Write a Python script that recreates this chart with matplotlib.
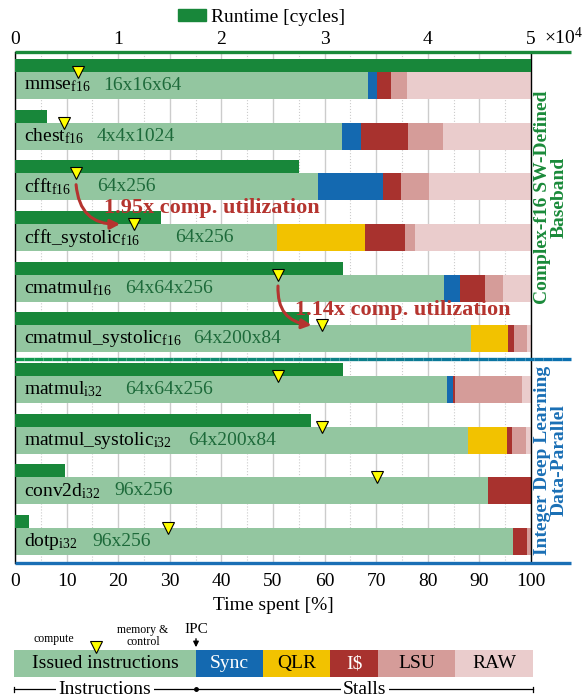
import numpy as np
import matplotlib
matplotlib.use("Agg")
import matplotlib.pyplot as plt
from matplotlib.patches import FancyArrowPatch, Rectangle, Patch
from matplotlib.collections import LineCollection
from matplotlib.colors import to_rgb
import matplotlib.transforms as mtrans

plt.rcParams["font.family"] = ["Liberation Serif", "DejaVu Serif"]
plt.rcParams["mathtext.fontset"] = "custom"
plt.rcParams["mathtext.rm"] = "Liberation Serif"
plt.rcParams["mathtext.it"] = "Liberation Serif:italic"
plt.rcParams["mathtext.bf"] = "Liberation Serif:bold"

# --- dados ---
NAMES = ["mmse", "chest", "cfft", "cfft_systolic", "cmatmul",
         "cmatmul_systolic", "matmul", "matmul_systolic", "conv2d", "dotp"]
DTYPES = ["f16", "f16", "f16", "f16", "f16", "f16", "i32", "i32", "i32", "i32"]
DIMS = ["16x16x64", "4x4x1024", "64x256", "64x256", "64x64x256",
        "64x200x84", "64x64x256", "64x200x84", "96x256", "96x256"]
RUNTIME = [50000, 3100, 27500, 14150, 31800, 28500, 31800, 28700, 4850, 1360]
ISSUED = [68.4, 63.4, 58.7, 50.8, 83.1, 88.4, 83.7, 87.8, 91.7, 96.5]
SYNC = [1.8, 3.7, 12.6, 0.0, 3.1, 0.0, 1.2, 0.0, 0.0, 0.0]
QLR = [0.0, 0.0, 0.0, 17.0, 0.0, 7.1, 0.0, 7.5, 0.0, 0.0]
ICACHE = [2.7, 9.1, 3.5, 7.8, 4.9, 1.2, 0.4, 1.0, 8.3, 2.7]
LSU = [3.1, 6.7, 5.4, 1.9, 3.5, 2.5, 13.0, 2.7, 0.0, 0.8]
RAW = [24.0, 17.1, 19.8, 22.5, 5.4, 0.8, 1.7, 1.0, 0.0, 0.0]
IPC_MARK = [12.2, 9.5, 11.8, 23.1, 51.0, 59.5, 51.0, 59.5, 70.2, 29.6]
GROUPS = ["Complex-f16 SW-Defined\nBaseband", "Integer Deep Learning\nData-Parallel"]
SPEEDUPS = ["1.95x comp. utilization", "1.14x comp. utilization"]
CAT_LABELS = ["Issued instructions", "Sync", "QLR", "I\\$", "LSU", "RAW"]

# --- estilo ---
C_RUN = "#18873a"
C_CAT = ["#93c6a0", "#1469b0", "#f2c200", "#a8322e", "#d59c99", "#eacccc"]
C_DIM = "#1d6a3a"
C_RED = "#b5342f"
C_GREEN = "#1a8a3a"
C_BLUE = "#1a6fb5"
FS = 14

fig = plt.figure(figsize=(5.88, 7.0), dpi=100)
ax = fig.add_axes([15 / 588, 137 / 700, 516 / 588, 511 / 700])
y = np.arange(len(NAMES))
ax.set_xlim(0, 100)
ax.set_ylim(9.424, -0.661)

# Barras empilhadas (tempo gasto em %)
left = np.zeros(len(NAMES))
for vals, col in zip([ISSUED, SYNC, QLR, ICACHE, LSU, RAW], C_CAT):
    ax.barh(y, vals, left=left, height=0.533, color=col, linewidth=0, zorder=2)
    left += np.array(vals)

ax.set_xticks(np.arange(0, 101, 10))
ax.set_xticks(np.arange(5, 100, 10), minor=True)
ax.grid(axis="x", which="major", color="#cccccc", linewidth=1.0, zorder=0)
ax.grid(axis="x", which="minor", color="#cccccc", linewidth=0.8, linestyle=":", zorder=0)
ax.set_axisbelow(True)
ax.set_yticks([])
ax.tick_params(axis="x", which="both", length=0, pad=7, labelsize=FS)
ax.set_xlabel("Time spent [%]", fontsize=FS, labelpad=5)
for s in ["top", "bottom"]:
    ax.spines[s].set_visible(False)
for s in ["left", "right"]:
    ax.spines[s].set_linewidth(1.0)

# Eixo superior: runtime em ciclos
ax2 = ax.twiny()
ax2.set_xlim(0, 5e4)
ax2.barh(y - 0.395, RUNTIME, height=0.257, color=C_RUN, linewidth=0, zorder=2)
ax2.set_xticks(np.arange(0, 5.1e4, 1e4))
ax2.set_xticklabels(["0", "1", "2", "3", "4", "5"])
ax2.tick_params(axis="x", length=0, pad=3, labelsize=FS)
for s in ax2.spines.values():
    s.set_visible(False)
ax2.text(1.025, 1.029, r"$\times10^{4}$", transform=ax2.transAxes, fontsize=FS,
         ha="left", va="center")
ax2.set_ylim(9.424, -0.661)

# Marcadores de IPC
mark_y = y - 0.267
ax2.plot(IPC_MARK, mark_y, linestyle="none", marker="v", markersize=8,
         markerfacecolor="#ffff00", markeredgecolor="black",
         markeredgewidth=0.8, transform=ax.transData, zorder=5, clip_on=False)

# Rótulos das linhas
for i in range(len(NAMES)):
    ax2.text(1.7, y[i], NAMES[i] + r"$_{\mathrm{" + DTYPES[i] + "}}$",
             transform=ax.transData, fontsize=FS, va="center", ha="left", zorder=6)
DIM_X = [17.1, 15.9, 15.9, 31.0, 21.3, 34.5, 21.3, 33.5, 19.2, 14.9]
for i in range(len(NAMES)):
    ax2.text(DIM_X[i], y[i], DIMS[i], transform=ax.transData, fontsize=FS,
             va="center", ha="left", color=C_DIM, zorder=6)

# Setas de ganho
arrows = [(2, 3, 2.2, 17.2, 2.42), (4, 5, 1.5, 54.3, 4.43)]
for k, (a, b, back, tx, ty) in enumerate(arrows):
    arr = FancyArrowPatch((IPC_MARK[a], mark_y[a] + 0.17),
                          (IPC_MARK[b] - back, mark_y[b]),
                          connectionstyle="arc3,rad=0.5", arrowstyle="-|>",
                          mutation_scale=14, color=C_RED, linewidth=2.2,
                          transform=ax.transData, zorder=7, clip_on=False)
    ax2.add_patch(arr)
    ax2.text(tx, ty, SPEEDUPS[k], transform=ax.transData, fontsize=16,
             fontweight="bold", color=C_RED, va="center", ha="left", zorder=7)

# Linhas de grupo
ext = 1.0775
blend = mtrans.blended_transform_factory(ax.transAxes, ax.transData)
ax2.plot([0, ext], [-0.661, -0.661], color=C_GREEN, linewidth=2.4,
         transform=blend, clip_on=False, zorder=8, solid_capstyle="butt")
ax2.plot([0, ext], [9.424, 9.424], color=C_BLUE, linewidth=2.4,
         transform=blend, clip_on=False, zorder=8, solid_capstyle="butt")
n_seg = 60
xs = np.linspace(0, ext, n_seg + 1)
segs = [[(xs[j], 5.4), (xs[j + 1], 5.4)] for j in range(n_seg)]
g0, b0 = np.array(to_rgb("#109a4c")), np.array(to_rgb("#0a6fb0"))
cols = [g0 + (b0 - g0) * t for t in np.linspace(0, 1, n_seg)]
lc = LineCollection(segs, colors=cols, linewidths=2.4, transform=blend,
                    clip_on=False, zorder=8)
ax2.add_collection(lc)

ax2.text(1.039, 2.2, GROUPS[0], transform=blend, rotation=90, fontsize=14,
         fontweight="bold", color=C_GREEN, ha="center", va="center",
         multialignment="center", linespacing=0.95)
ax2.text(1.039, 7.4, GROUPS[1], transform=blend, rotation=90, fontsize=14,
         fontweight="bold", color=C_BLUE, ha="center", va="center",
         multialignment="center", linespacing=0.95)

# Legenda superior
fig.legend(handles=[Patch(color=C_RUN, label="Runtime [cycles]")],
           loc="upper center", bbox_to_anchor=(262 / 588, 1.012), frameon=False,
           fontsize=FS, handlelength=1.4, handleheight=0.55, handletextpad=0.3)

# Legenda inferior (chave de categorias)
lax = fig.add_axes([0, 0, 1, 85 / 700])
lax.set_xlim(0, 588)
lax.set_ylim(700, 615)
lax.axis("off")
edges = [14, 196, 263, 330, 378, 455, 533]
for j, lab in enumerate(CAT_LABELS):
    lax.add_patch(Rectangle((edges[j], 650), edges[j + 1] - edges[j], 27,
                            color=C_CAT[j], linewidth=0))
    tc = "white" if j in (1, 3) else "black"
    lax.text((edges[j] + edges[j + 1]) / 2, 663.5, lab, fontsize=FS,
             color=tc, ha="center", va="center")
lax.plot([96], [647], marker="v", markersize=8, markerfacecolor="#ffff00",
         markeredgecolor="black", markeredgewidth=0.8, linestyle="none")
lax.text(54, 639, "compute", fontsize=8.5, ha="center", va="center")
lax.text(143, 636, "memory &\ncontrol", fontsize=8.5, ha="center", va="center",
         linespacing=1.0)
lax.text(196, 629, "IPC", fontsize=11, ha="center", va="center")
lax.annotate("", xy=(196, 650), xytext=(196, 636),
             arrowprops=dict(arrowstyle="-|>", color="black", lw=1.0,
                             mutation_scale=8))
lax.plot([14, 533], [689, 689], color="black", linewidth=0.9)
lax.plot([14, 14], [686.5, 691.5], color="black", linewidth=0.9)
lax.plot([533, 533], [686.5, 691.5], color="black", linewidth=0.9)
lax.plot([196], [689], marker="o", markersize=2.5, color="black")
lax.text(105, 689, "Instructions", fontsize=FS, ha="center", va="center",
         bbox=dict(facecolor="white", edgecolor="none", pad=1.5))
lax.text(365, 689, "Stalls", fontsize=FS, ha="center", va="center",
         bbox=dict(facecolor="white", edgecolor="none", pad=1.5))

fig.savefig("out.png", dpi=100)
